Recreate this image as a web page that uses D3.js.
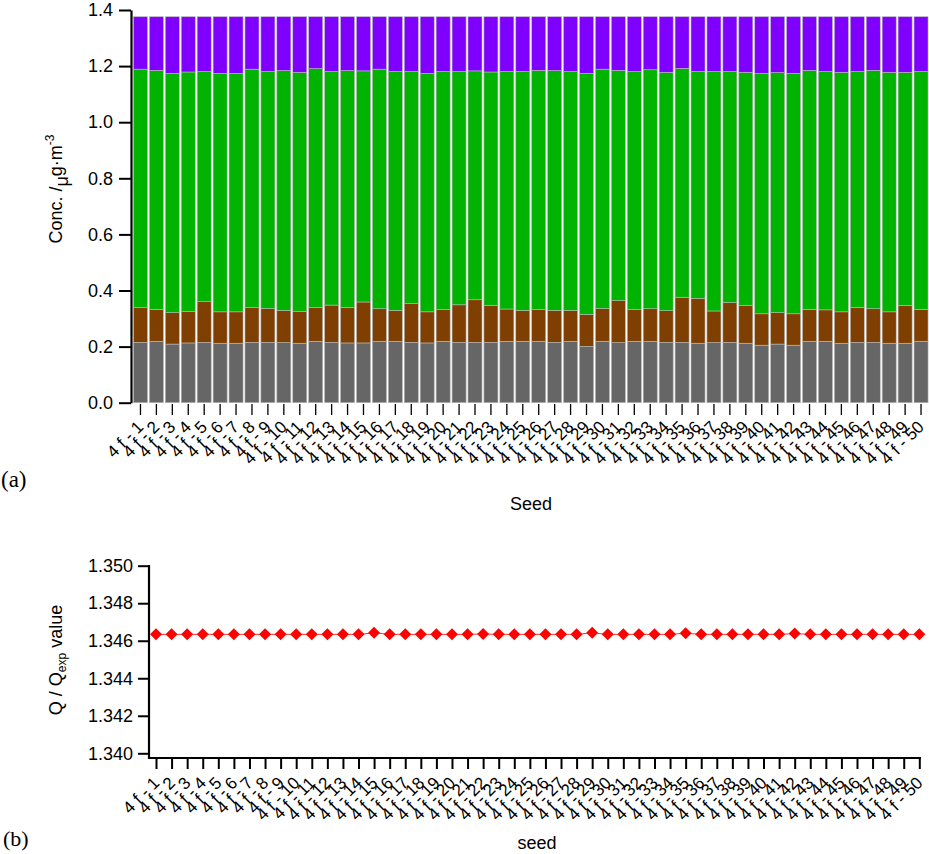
<!DOCTYPE html>
<html><head><meta charset="utf-8">
<script src="https://cdn.jsdelivr.net/npm/d3@7"></script>
<style>
body{margin:0;background:#fff}
svg{display:block}
text{font-family:"Liberation Sans",Arial,sans-serif;fill:#000}
</style>
</head><body>
<svg id="c" width="929" height="854"></svg>
<script>
// ---------- DATA ----------
const seeds = ["4 f - 1","4 f - 2","4 f - 3","4 f - 4","4 f - 5","4 f - 6","4 f - 7","4 f - 8","4 f - 9","4 f - 10",
"4 f - 11","4 f - 12","4 f - 13","4 f - 14","4 f - 15","4 f - 16","4 f - 17","4 f - 18","4 f - 19","4 f - 20",
"4 f - 21","4 f - 22","4 f - 23","4 f - 24","4 f - 25","4 f - 26","4 f - 27","4 f - 28","4 f - 29","4 f - 30",
"4 f - 31","4 f - 32","4 f - 33","4 f - 34","4 f - 35","4 f - 36","4 f - 37","4 f - 38","4 f - 39","4 f - 40",
"4 f - 41","4 f - 42","4 f - 43","4 f - 44","4 f - 45","4 f - 46","4 f - 47","4 f - 48","4 f - 49","4 f - 50"];

const factorGray = [0.215,0.219,0.209,0.213,0.215,0.212,0.212,0.215,0.215,0.214,
0.212,0.219,0.215,0.213,0.213,0.219,0.219,0.215,0.213,0.219,
0.215,0.215,0.215,0.219,0.219,0.219,0.215,0.219,0.201,0.219,
0.214,0.219,0.219,0.215,0.215,0.212,0.214,0.215,0.212,0.205,
0.209,0.205,0.219,0.219,0.212,0.215,0.215,0.212,0.212,0.219];

const factorBrown = [0.124,0.114,0.112,0.113,0.145,0.112,0.112,0.124,0.121,0.115,
0.114,0.120,0.133,0.127,0.146,0.116,0.110,0.138,0.111,0.113,
0.134,0.152,0.131,0.115,0.110,0.113,0.114,0.110,0.114,0.117,
0.150,0.113,0.116,0.113,0.161,0.160,0.113,0.142,0.134,0.112,
0.112,0.112,0.114,0.112,0.112,0.125,0.120,0.112,0.135,0.114];

const factorGreen = [0.850,0.852,0.853,0.853,0.821,0.850,0.850,0.850,0.845,0.855,
0.852,0.852,0.833,0.844,0.824,0.854,0.852,0.828,0.850,0.849,
0.832,0.816,0.833,0.847,0.852,0.853,0.855,0.852,0.859,0.853,
0.821,0.849,0.852,0.850,0.816,0.809,0.854,0.824,0.832,0.857,
0.856,0.857,0.852,0.850,0.854,0.841,0.850,0.854,0.831,0.848];

const factorPurple = [0.187,0.191,0.202,0.197,0.195,0.202,0.202,0.187,0.195,0.192,
0.198,0.185,0.195,0.192,0.193,0.187,0.195,0.195,0.202,0.195,
0.195,0.193,0.197,0.195,0.195,0.191,0.192,0.195,0.202,0.187,
0.191,0.195,0.189,0.198,0.184,0.195,0.195,0.195,0.198,0.202,
0.199,0.202,0.191,0.195,0.198,0.195,0.191,0.198,0.198,0.195];

const qRatio = [1.34634,1.34634,1.34634,1.34634,1.34634,1.34634,1.34634,1.34634,1.34634,1.34634,
1.34634,1.34634,1.34634,1.34634,1.34642,1.34634,1.34634,1.34634,1.34634,1.34634,
1.34634,1.34636,1.34634,1.34634,1.34634,1.34634,1.34634,1.34634,1.34642,1.34634,
1.34634,1.34634,1.34634,1.34634,1.34640,1.34634,1.34634,1.34634,1.34634,1.34634,
1.34634,1.34638,1.34634,1.34634,1.34634,1.34634,1.34634,1.34634,1.34634,1.34634];

const yTicksA = [0.0,0.2,0.4,0.6,0.8,1.0,1.2,1.4];
const yTicksB = [1.340,1.342,1.344,1.346,1.348,1.350];
const factorKeys = ["gray","brown","green","purple"];
const factorColors = ["#666666","#7f3f00","#00b300","#7f00ff"];

// ---------- CHART ----------
const svg = d3.select("#c");
const FONT = "Liberation Sans, Arial, sans-serif";

// (a) stacked bars
const rows = seeds.map((s,i)=>({seed:s,gray:factorGray[i],brown:factorBrown[i],green:factorGreen[i],purple:factorPurple[i]}));
const stack = d3.stack().keys(factorKeys)(rows);

const xA = d3.scaleBand().domain(seeds).range([132.5,929]).paddingInner(0.12).paddingOuter(0.06);
const yA = d3.scaleLinear().domain([0,1.4]).range([402.7,10]);

const gA = svg.append("g");
gA.selectAll("g.layer").data(stack).join("g")
  .attr("fill",(d,i)=>factorColors[i])
  .selectAll("rect").data(d=>d).join("rect")
  .attr("x",d=>xA(d.data.seed))
  .attr("width",xA.bandwidth())
  .attr("y",d=>yA(d[1]))
  .attr("height",d=>yA(d[0])-yA(d[1]))
  .attr("stroke","#b8b8b8").attr("stroke-width",0.6);

const axA = svg.append("g").attr("transform","translate(131,0)")
  .call(d3.axisLeft(yA).tickValues(yTicksA).tickFormat(d3.format(".1f")).tickSize(12).tickSizeOuter(0).tickPadding(6));
axA.select(".domain").attr("stroke-width",2.2);
axA.selectAll(".tick line").attr("stroke-width",2);
axA.selectAll(".tick text").attr("font-size",18).style("font-family",FONT);

const axAx = svg.append("g").attr("transform","translate(0,404)")
  .call(d3.axisBottom(xA).tickSize(11).tickSizeOuter(0));
axAx.select(".domain").remove();
axAx.selectAll(".tick line").attr("stroke-width",1.3);
axAx.selectAll(".tick text")
  .attr("font-size",17).style("font-family",FONT)
  .attr("text-anchor","end").attr("dy",null).attr("y",null)
  .attr("transform","translate(4,24) rotate(-45)");

// y label (a)
const ylA = svg.append("text").attr("transform","translate(62,189) rotate(-90)")
  .attr("text-anchor","middle").attr("font-size",18);
ylA.append("tspan").text("Conc. /");
ylA.append("tspan").attr("dy",6).text("\u03bc");
ylA.append("tspan").attr("dy",-6).text("g\u00b7m");
ylA.append("tspan").attr("dy",-8).attr("font-size",12).text("-3");

svg.append("text").attr("x",531).attr("y",510).attr("text-anchor","middle").attr("font-size",18).text("Seed");
svg.append("text").attr("x",1).attr("y",487).attr("font-size",23)
  .style("font-family","Liberation Serif, Times New Roman, serif").text("(a)");

// (b) Q / Qexp
const xB = d3.scalePoint().domain(seeds).range([156,919.3]);
const yB = d3.scaleLinear().domain([1.340,1.350]).range([753.3,565.7]);

svg.append("line").attr("x1",148).attr("x2",921).attr("y1",758).attr("y2",758)
  .attr("stroke","#000").attr("stroke-width",2.2);

const axB = svg.append("g").attr("transform","translate(149,0)")
  .call(d3.axisLeft(yB).tickValues(yTicksB).tickFormat(d3.format(".3f")).tickSize(11).tickSizeOuter(0).tickPadding(5));
axB.select(".domain").attr("d","M0,565V759").attr("stroke-width",2.2);
axB.selectAll(".tick line").attr("stroke-width",2);
axB.selectAll(".tick text").attr("font-size",18).style("font-family",FONT);

const axBx = svg.append("g").attr("transform","translate(0,759)")
  .call(d3.axisBottom(xB).tickSize(10).tickSizeOuter(0));
axBx.select(".domain").remove();
axBx.selectAll(".tick line").attr("stroke-width",2);
axBx.selectAll(".tick text")
  .attr("font-size",17).style("font-family",FONT)
  .attr("text-anchor","end").attr("dy",null).attr("y",null)
  .attr("transform","translate(4,25) rotate(-45)");

svg.append("path").datum(qRatio.map((v,i)=>[xB(seeds[i]),yB(v)]))
  .attr("d",d3.line()).attr("fill","none").attr("stroke","#ff3030").attr("stroke-width",1);

svg.selectAll("path.dia").data(qRatio).join("path").attr("class","dia")
  .attr("transform",(d,i)=>`translate(${xB(seeds[i])},${yB(d)})`)
  .attr("d","M0,-6L6,0L0,6L-6,0Z").attr("fill","#ff0000");

const ylB = svg.append("text").attr("transform","translate(62,660) rotate(-90)")
  .attr("text-anchor","middle").attr("font-size",18);
ylB.append("tspan").text("Q / Q");
ylB.append("tspan").attr("dy",4).attr("font-size",12).text("exp");
ylB.append("tspan").attr("dy",-4).text(" value");

svg.append("text").attr("x",537).attr("y",849).attr("text-anchor","middle").attr("font-size",18).text("seed");
svg.append("text").attr("x",3).attr("y",846).attr("font-size",22)
  .style("font-family","Liberation Serif, Times New Roman, serif").text("(b)");
</script>
</body></html>
